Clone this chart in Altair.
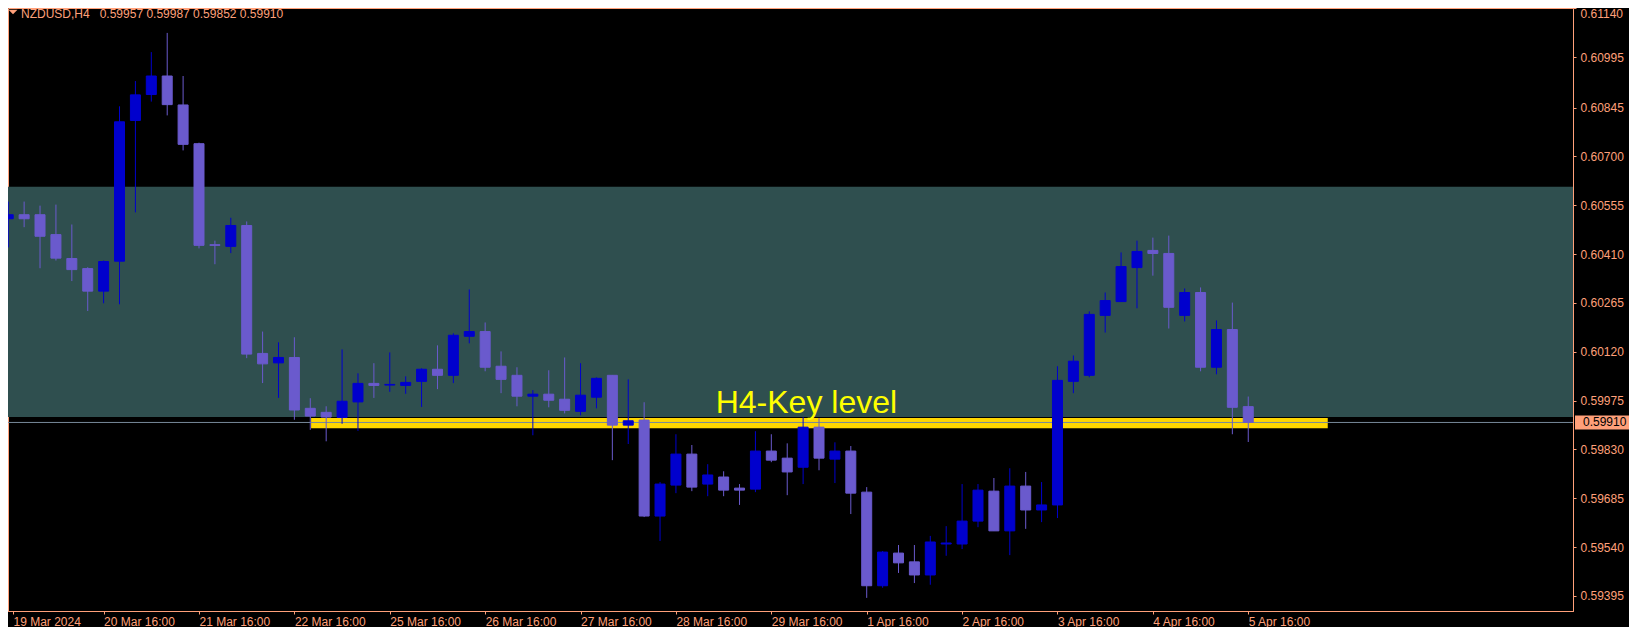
import altair as alt
import pandas as pd

# ---------------- data ----------------
symbol = "NZDUSD,H4"
opens = [0.60515, 0.60527, 0.60527, 0.60468, 0.60397, 0.60367, 0.60300, 0.60389, 0.60807, 0.60884,
         0.60939, 0.60853, 0.60738, 0.60438, 0.60433, 0.60495, 0.60115, 0.60087, 0.60103, 0.59952,
         0.59940, 0.59925, 0.59971, 0.60026, 0.60021, 0.60020, 0.60032, 0.60068, 0.60050, 0.60166,
         0.60180, 0.60077, 0.60050, 0.59988, 0.59994, 0.59979, 0.59943, 0.59985, 0.60050, 0.59902,
         0.59917, 0.59632, 0.59724, 0.59816, 0.59727, 0.59748, 0.59715, 0.59712, 0.59825, 0.59804,
         0.59777, 0.59896, 0.59801, 0.59825, 0.59703, 0.59425, 0.59522, 0.59496, 0.59457, 0.59549,
         0.59549, 0.59617, 0.59706, 0.59588, 0.59721, 0.59650, 0.59665, 0.60032, 0.60050, 0.60228,
         0.60269, 0.60370, 0.60421, 0.60412, 0.60228, 0.60296, 0.60074, 0.60186, 0.59957]
highs = [0.60566, 0.60566, 0.60554, 0.60557, 0.60498, 0.60371, 0.60391, 0.60849, 0.60924, 0.61010,
         0.61067, 0.60939, 0.60741, 0.60450, 0.60518, 0.60507, 0.60180, 0.60148, 0.60163, 0.59982,
         0.59958, 0.60127, 0.60056, 0.60086, 0.60118, 0.60047, 0.60071, 0.60139, 0.60175, 0.60305,
         0.60207, 0.60121, 0.60074, 0.60006, 0.60065, 0.60103, 0.60086, 0.60044, 0.60050, 0.60038,
         0.59970, 0.59733, 0.59875, 0.59843, 0.59786, 0.59765, 0.59727, 0.59884, 0.59875, 0.59848,
         0.59926, 0.59923, 0.59851, 0.59840, 0.59718, 0.59528, 0.59546, 0.59546, 0.59573, 0.59602,
         0.59727, 0.59727, 0.59745, 0.59774, 0.59763, 0.59733, 0.60077, 0.60109, 0.60240, 0.60296,
         0.60415, 0.60450, 0.60459, 0.60465, 0.60308, 0.60311, 0.60213, 0.60266, 0.59987]
lows = [0.60430, 0.60490, 0.60368, 0.60391, 0.60330, 0.60241, 0.60264, 0.60261, 0.60534, 0.60863,
        0.60822, 0.60718, 0.60427, 0.60380, 0.60413, 0.60101, 0.60027, 0.59983, 0.59918, 0.59888,
        0.59854, 0.59906, 0.59885, 0.59983, 0.60001, 0.59995, 0.59956, 0.60009, 0.60027, 0.60145,
        0.60062, 0.59997, 0.59958, 0.59872, 0.59955, 0.59937, 0.59931, 0.59952, 0.59798, 0.59846,
        0.59629, 0.59558, 0.59700, 0.59706, 0.59691, 0.59691, 0.59665, 0.59703, 0.59792, 0.59694,
        0.59727, 0.59768, 0.59730, 0.59638, 0.59389, 0.59419, 0.59463, 0.59433, 0.59428, 0.59514,
        0.59534, 0.59599, 0.59588, 0.59516, 0.59594, 0.59614, 0.59626, 0.59997, 0.60044, 0.60177,
        0.60269, 0.60249, 0.60346, 0.60189, 0.60210, 0.60062, 0.60053, 0.59875, 0.59852]
closes = [0.60527, 0.60515, 0.60463, 0.60398, 0.60364, 0.60300, 0.60388, 0.60803, 0.60883, 0.60939,
          0.60854, 0.60736, 0.60436, 0.60436, 0.60495, 0.60113, 0.60084, 0.60103, 0.59947, 0.59929,
          0.59926, 0.59973, 0.60026, 0.60020, 0.60023, 0.60029, 0.60068, 0.60050, 0.60169, 0.60180,
          0.60074, 0.60038, 0.59988, 0.59994, 0.59976, 0.59946, 0.59991, 0.60041, 0.59902, 0.59915,
          0.59632, 0.59727, 0.59816, 0.59718, 0.59754, 0.59709, 0.59709, 0.59825, 0.59798, 0.59763,
          0.59896, 0.59804, 0.59825, 0.59700, 0.59425, 0.59525, 0.59493, 0.59457, 0.59555, 0.59552,
          0.59617, 0.59709, 0.59588, 0.59721, 0.59650, 0.59665, 0.60035, 0.60092, 0.60231, 0.60272,
          0.60373, 0.60418, 0.60412, 0.60252, 0.60296, 0.60074, 0.60186, 0.59955, 0.59910]

x_tick_bars = [0, 6, 12, 18, 24, 30, 36, 42, 48, 54, 60, 66, 72, 78]
x_tick_labels = ["19 Mar 2024", "20 Mar 16:00", "21 Mar 16:00", "22 Mar 16:00", "25 Mar 16:00",
                 "26 Mar 16:00", "27 Mar 16:00", "28 Mar 16:00", "29 Mar 16:00", "1 Apr 16:00",
                 "2 Apr 16:00", "3 Apr 16:00", "4 Apr 16:00", "5 Apr 16:00"]
y_ticks = [0.61140, 0.60995, 0.60845, 0.60700, 0.60555, 0.60410, 0.60265, 0.60120,
           0.59975, 0.59830, 0.59685, 0.59540, 0.59395]

zone_top, zone_bottom = 0.60610, 0.59926
key_start, key_end = 19.05, 83.0
key_top, key_bottom = 0.59923, 0.59893
key_label = "H4-Key level"
key_label_bar, key_label_price = 44.5, 0.59938
bid = closes[-1]

# ---------------- layout / style ----------------
W, H = 1565, 603
X_MIN = 0.3
X_MAX = X_MIN + W / 16.0
Y_MIN, Y_MAX = 0.59350, 0.61141
SALMON = "#FFA07A"
BULL = "#0000CD"
BEAR = "#6A5ACD"
FONT = "Liberation Sans"

df = pd.DataFrame({"bar": list(range(len(opens))), "open": opens, "high": highs,
                   "low": lows, "close": closes})
df["dir"] = ["up" if c > o else "down" for o, c in zip(opens, closes)]

xs = alt.Scale(domain=[X_MIN, X_MAX], nice=False, zero=False)
ys = alt.Scale(domain=[Y_MIN, Y_MAX], nice=False, zero=False)
col = alt.Scale(domain=["up", "down"], range=[BULL, BEAR])

x_vals = [max(v, X_MIN) for v in x_tick_bars]
label_js = "[" + ",".join("'" + s + "'" for s in x_tick_labels) + "]"

x_axis = alt.Axis(values=x_vals, labelExpr=label_js + "[round(datum.value/6)]", grid=False,
                  tickSize=3, labelAlign="left", labelPadding=2, labelColor=SALMON,
                  tickColor=SALMON, domainColor=SALMON, labelFont=FONT, labelFontSize=12,
                  title=None, labelOverlap=False, labelFlush=False, orient="bottom")
y_axis = alt.Axis(orient="right", values=y_ticks, format=".5f", grid=False, tickSize=3,
                  labelPadding=4, labelColor=SALMON, tickColor=SALMON, domainColor=SALMON,
                  labelFont=FONT, labelFontSize=12, title=None, labelOverlap=False,
                  labelFlush=4)

zone = alt.Chart(pd.DataFrame({"top": [zone_top], "bottom": [zone_bottom]})).mark_rect(
    fill="#2F4F4F").encode(
    x=alt.value(0), x2=alt.value(W),
    y=alt.Y("top:Q", scale=ys, axis=y_axis), y2="bottom:Q")

band = alt.Chart(pd.DataFrame({"x0": [key_start], "x1": [key_end],
                               "top": [key_top], "bottom": [key_bottom]})).mark_rect(
    fill="#FFD700").encode(
    x=alt.X("x0:Q", scale=xs, axis=x_axis), x2="x1:Q",
    y=alt.Y("top:Q", scale=ys, axis=y_axis), y2="bottom:Q")

bid_df = pd.DataFrame({"p": [bid], "label": [f"{bid:.5f}"]})
bid_line = alt.Chart(bid_df).mark_rule(color="#778899", strokeWidth=1).encode(
    x=alt.value(0), x2=alt.value(W), y=alt.Y("p:Q", scale=ys, axis=y_axis))

wicks = alt.Chart(df).mark_rule(strokeWidth=1, clip=True).encode(
    x=alt.X("bar:Q", scale=xs, axis=x_axis),
    y=alt.Y("low:Q", scale=ys, axis=y_axis), y2="high:Q",
    color=alt.Color("dir:N", scale=col, legend=None))

bodies = alt.Chart(df).mark_bar(width=10, strokeWidth=1, clip=True).encode(
    x=alt.X("bar:Q", scale=xs, axis=x_axis),
    y=alt.Y("open:Q", scale=ys, axis=y_axis), y2="close:Q",
    fill=alt.Fill("dir:N", scale=col, legend=None),
    stroke=alt.Stroke("dir:N", scale=col, legend=None))

key_text = alt.Chart(pd.DataFrame({"bar": [key_label_bar], "p": [key_label_price],
                                   "t": [key_label]})).mark_text(
    font=FONT, fontSize=32, color="#FFFF00", align="left", baseline="alphabetic").encode(
    x=alt.X("bar:Q", scale=xs, axis=x_axis), y=alt.Y("p:Q", scale=ys, axis=y_axis), text="t:N")

header = f"{symbol}\u00a0\u00a0\u00a0{opens[-1]:.5f} {highs[-1]:.5f} {lows[-1]:.5f} {closes[-1]:.5f}"
head = alt.Chart(pd.DataFrame({"t": [header]})).mark_text(
    font=FONT, fontSize=12, color=SALMON, align="left", baseline="alphabetic").encode(
    x=alt.value(13), y=alt.value(10), text="t:N")

tri = alt.Chart(pd.DataFrame({"t": [symbol]})).mark_point(
    shape="M-1,-0.5L1,-0.5L0,0.5Z", size=81, filled=True, color=SALMON, opacity=1).encode(
    x=alt.value(5), y=alt.value(4))

price_box = alt.Chart(bid_df).mark_tick(orient="horizontal", size=56, thickness=14,
                                         color=SALMON, opacity=1).encode(
    x=alt.value(W + 30), y=alt.Y("p:Q", scale=ys, axis=y_axis))
price_txt = alt.Chart(bid_df).mark_text(font=FONT, fontSize=12, color="#000000",
                                        align="left", baseline="middle").encode(
    x=alt.value(W + 10), y=alt.Y("p:Q", scale=ys, axis=y_axis), text="label:N")

chart = alt.layer(zone, band, bid_line, wicks, bodies, key_text, head, tri,
                  price_box, price_txt).properties(
    width=W, height=H,
    autosize=alt.AutoSizeParams(type="none"),
    padding={"left": 0, "top": 0, "right": 56, "bottom": 16},
    background="#000000",
).configure_view(stroke=SALMON, strokeWidth=1, fill="#000000")

chart.save("out.html", embed_options={"renderer": "svg", "actions": False})
